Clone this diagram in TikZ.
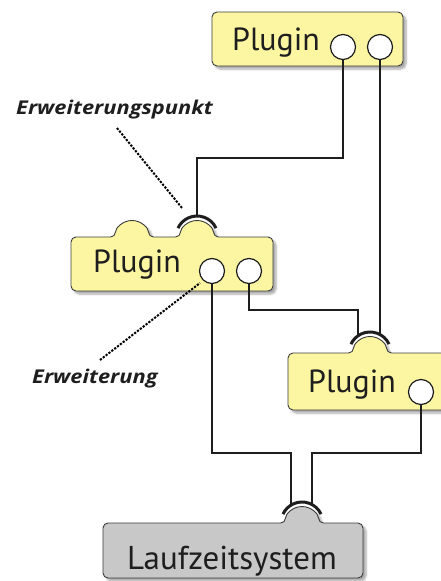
\documentclass[tikz,border=0pt]{standalone}
\usepackage{fontspec}
\setmainfont{PT Sans}
\newfontfamily\calloutfont{Open Sans}
\usetikzlibrary{calc,shadows.blur}

\definecolor{plugfill}{RGB}{252,246,162}
\definecolor{corefill}{RGB}{200,200,200}
\definecolor{edge}{RGB}{60,60,60}
\definecolor{ink}{RGB}{30,30,30}

\newcommand{\widetext}[1]{\scalebox{1.15}[1]{#1}}

\tikzset{
  box/.style={draw=edge, line width=0.9pt, rounded corners=5pt,
    blur shadow={shadow xshift=3pt, shadow yshift=-3pt, shadow blur steps=6, shadow opacity=35}},
  plugbox/.style={box, fill=plugfill},
  corebox/.style={box, fill=corefill},
  port/.style={circle, draw=ink, fill=white, line width=1.2pt, minimum size=25pt, inner sep=0pt},
  socket/.style={draw=ink, line width=3pt},
  wire/.style={draw=ink, line width=1.4pt},
  leader/.style={draw=black, line width=2pt, dash pattern=on 2.2pt off 1.4pt},
  title/.style={anchor=base west, inner sep=0pt, font=\fontsize{32}{36}\selectfont, text=ink},
  callout/.style={anchor=base west, inner sep=0pt, font=\calloutfont\fontsize{19}{22}\selectfont\bfseries\itshape, text=ink},
}

\begin{document}
\begin{tikzpicture}[x=1pt, y=1pt, yscale=-1]
\useasboundingbox (0,0) rectangle (441,581);

% plugin boxes
\path[plugbox] (212,12) rectangle (403,66);
\path[plugbox] (71,264) -- (71,291) -- (273,291) -- (273,237) -- (213.5,237)
  arc[start angle=0, end angle=-180, radius=16.5] -- (148.5,237)
  arc[start angle=0, end angle=-180, radius=16.5] -- (71,237) -- cycle;
\path[plugbox] (288,380) -- (288,410) -- (450,410) -- (450,353) -- (386.5,353)
  arc[start angle=0, end angle=-180, radius=16.5] -- (288,353) -- cycle;
% runtime box
\path[corebox] (103,550) -- (103,578) -- (363,578) -- (363,523) -- (318.5,523)
  arc[start angle=0, end angle=-180, radius=16.5] -- (103,523) -- cycle;

% texts
\node[title] (tTop) at (232,50) {Plugin};
\node[title] (tMid) at (93,272) {Plugin};
\node[title] (tRight) at (308,392) {Plugin};
\node[title, font=\fontsize{33}{36}\selectfont] (tCore) at (127,569) {Laufzeitsystem};

% bump centres and sockets
\coordinate (bMid) at (197,237);
\coordinate (bRight) at (370,353);
\coordinate (bCore) at (302,523);
\foreach \b in {bMid,bRight,bCore}
  \draw[socket] (\b) ++(-25:21) arc[start angle=-25, end angle=-155, radius=21];

\coordinate (sMid) at (197,216);
\coordinate (sRightL) at (358,336);
\coordinate (sRightR) at (380,334.5);
\coordinate (sCoreL) at (291,505);
\coordinate (sCoreR) at (312,504.5);

% ports
\node[port] (pTop1) at (343,47) {};
\node[port] (pTop2) at (380,47) {};
\node[port] (pMid1) at (212,271) {};
\node[port] (pMid2) at (249,271) {};
\node[port] (pRight) at (421,392) {};

% wires
\draw[wire] (pTop1.south) -- (pTop1.south |- 0,158) -| (sMid);
\draw[wire] (pTop2.south) -- (sRightR);
\draw[wire] (pMid1.south) -- (pMid1.south |- 0,453) -| (sCoreL);
\draw[wire] (pMid2.south) -- (pMid2.south |- 0,310) -| (sRightL);
\draw[wire] (pRight.south) -- (pRight.south |- 0,453) -| (sCoreR);

% callouts
\node[callout] (lPoint) at (16,114) {\widetext{Erweiterungspunkt}};
\node[callout] (lExt) at (32,383) {\widetext{Erweiterung}};
\coordinate (lPointA) at (117,128);
\coordinate (lPointB) at (182,208);
\coordinate (lExtA) at (100,360);
\coordinate (lExtB) at (200,283);
\draw[leader] (lPointA) -- (lPointB);
\draw[leader] (lExtA) -- (lExtB);
\end{tikzpicture}
\end{document}
